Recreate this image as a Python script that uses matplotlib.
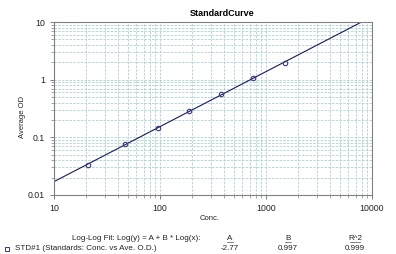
import numpy as np
import matplotlib.pyplot as plt
from matplotlib.ticker import LogLocator, NullFormatter
from matplotlib.lines import Line2D

plt.rcParams['font.family'] = ['Liberation Sans', 'DejaVu Sans']

# standard points
conc = [21, 47, 95, 187, 376, 753, 1514]
avg_od = [0.033, 0.076, 0.148, 0.286, 0.56, 1.07, 1.94]

# fit parameters shown in the table
fit_a = -2.77
fit_b = 0.997
fit_r2 = 0.999

fig = plt.figure(figsize=(3.96, 2.54), dpi=100)
ax = fig.add_axes([54 / 396, 1 - 195 / 254, 318 / 396, 173 / 254])

# drawn line goes through the plotted points
slope, icpt = np.polyfit(np.log10(conc), np.log10(avg_od), 1)
xs = np.logspace(1, 4, 200)
ys = 10 ** (icpt + slope * np.log10(xs))
ax.plot(xs, ys, color='#1a1a5a', lw=0.8)
ax.plot(conc, avg_od, 'o', ms=3.2, mfc='none', mec='#3a3a7a', mew=0.8)

ax.set_xscale('log')
ax.set_yscale('log')
ax.set_xlim(10, 10000)
ax.set_ylim(0.01, 10)
ax.xaxis.set_minor_locator(LogLocator(base=10, subs=np.arange(2, 10)))
ax.yaxis.set_minor_locator(LogLocator(base=10, subs=np.arange(2, 10)))
ax.xaxis.set_minor_formatter(NullFormatter())
ax.yaxis.set_minor_formatter(NullFormatter())
ax.set_xticks([10, 100, 1000, 10000])
ax.set_xticklabels(['10', '100', '1000', '10000'])
ax.set_yticks([0.01, 0.1, 1, 10])
ax.set_yticklabels(['0.01', '0.1', '1', '10'])

ax.grid(True, which='both', color='#add0d6', ls=(0, (3, 1.5)), lw=0.6)
ax.set_axisbelow(True)
for s in ax.spines.values():
    s.set_color('#808080')
    s.set_linewidth(0.8)
ax.tick_params(which='both', colors='#808080', labelcolor='#222222', labelsize=6.3)
ax.tick_params(which='major', length=3, width=0.7)
ax.tick_params(which='minor', length=2, width=0.5)

fig.text(222 / 396, 1 - 13 / 254, 'StandardCurve', ha='center', va='center',
         fontsize=6.5, fontweight='bold')
fig.text(22 / 396, 1 - 117 / 254, 'Average OD', rotation=90, ha='center',
         va='center', fontsize=5.5, color='#222222')
fig.text(210 / 396, 1 - 219 / 254, 'Conc.', ha='center', va='center',
         fontsize=5.5, color='#222222')

fig.text(200 / 396, 1 - 238 / 254, 'Log-Log Fit: Log(y) = A + B * Log(x):',
         ha='right', va='center', fontsize=5.8, color='#222222')
for xp, head, val in [(230, 'A', fit_a), (288, 'B', fit_b), (355, 'R^2', fit_r2)]:
    fig.text(xp / 396, 1 - 238 / 254, head, ha='center', va='center',
             fontsize=5.8, color='#222222')
    w = 3 + 2.2 * len(head)
    fig.add_artist(Line2D([(xp - w / 2) / 396, (xp + w / 2) / 396],
                          [1 - 242 / 254, 1 - 242 / 254], color='#222222', lw=0.4))
    fig.text(xp / 396, 1 - 249 / 254, f'{val:g}', ha='center', va='center',
             fontsize=5.8, color='#222222')

fig.add_artist(Line2D([7 / 396], [1 - 249 / 254], marker='s', ms=2.6,
                      mfc='none', mec='#3a3a7a', mew=0.7))
fig.text(15 / 396, 1 - 249 / 254, 'STD#1 (Standards: Conc. vs Ave. O.D.)',
         ha='left', va='center', fontsize=5.8, color='#222222')

fig.savefig('out.png', dpi=100)
